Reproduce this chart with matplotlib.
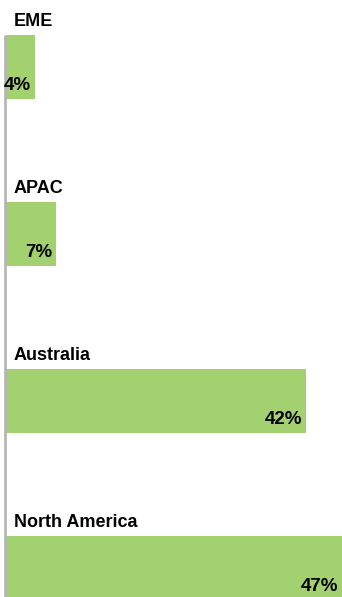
import matplotlib

matplotlib.use("Agg")
import matplotlib.pyplot as plt

# Share of revenue by region
regions = ["EME", "APAC", "Australia", "North America"]
shares = [4, 7, 42, 47]

BAR_GREEN = "#a3d16f"
AXIS_GRAY = "#b4b4b8"

plt.rcParams["font.family"] = ["Liberation Sans", "DejaVu Sans"]

W, H = 342, 597
fig = plt.figure(figsize=(W / 100, H / 100), dpi=100)
ax = fig.add_axes([0, 0, 1, 1])

px = 47 / 336.0  # data units per pixel along x
bar_h = 0.38
ax.set_xlim(-6 * px, 47)
ax.set_ylim(3.174, -0.401)
ax.axis("off")

pos = list(range(len(regions)))
ax.barh(pos, shares, height=bar_h, color=BAR_GREEN, align="center")

# left baseline, starting at the top of the first bar
ax.vlines(-1.5 * px, pos[0] - bar_h / 2, 3.174, color=AXIS_GRAY, lw=1.9)

for y, name, val in zip(pos, regions, shares):
    ax.annotate(name, xy=(0, y - bar_h / 2), xytext=(8, 9),
                textcoords="offset pixels", ha="left", va="baseline",
                fontsize=13, fontweight="bold", color="black",
                annotation_clip=False)
    ax.annotate(f"{val}%", xy=(val, y + bar_h / 2), xytext=(-4, 9),
                textcoords="offset pixels", ha="right", va="baseline",
                fontsize=13.5, fontweight="bold", color="black",
                annotation_clip=False)

fig.savefig("out.png", dpi=100)
